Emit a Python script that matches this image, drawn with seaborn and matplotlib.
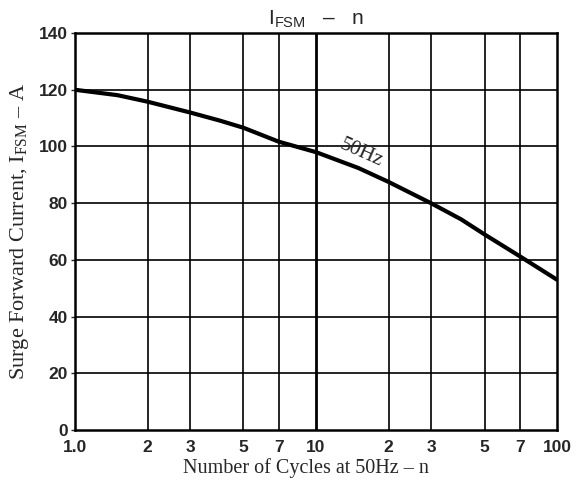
import numpy as np
import pandas as pd
import matplotlib
matplotlib.use("Agg")
import matplotlib.pyplot as plt
import seaborn as sns

cycles = [1, 1.5, 2, 3, 4, 5, 7, 10, 15, 20, 30, 40, 50, 70, 100]
current = [120, 118.1, 115.8, 112, 109.1, 106.6, 101.7, 98, 92.4, 87.5, 80, 74.3, 69, 61.3, 53]
xticks = [1, 2, 3, 5, 7, 10, 20, 30, 50, 70, 100]
xlabels = ["1.0", "2", "3", "5", "7", "10", "2", "3", "5", "7", "100"]
yticks = [0, 20, 40, 60, 80, 100, 120, 140]

df = pd.DataFrame({"n": cycles, "I": current})

sns.set_style("white")
plt.rcParams['font.family'] = ['Liberation Sans', 'DejaVu Sans']
plt.rcParams['mathtext.fontset'] = 'custom'
plt.rcParams['mathtext.rm'] = 'Liberation Serif'
plt.rcParams['mathtext.sf'] = 'Liberation Sans'

fig = plt.figure(figsize=(5.83, 4.86), dpi=100)
ax = fig.add_axes([0.1286, 0.115, 0.827, 0.817])

sns.lineplot(data=df, x="n", y="I", ax=ax, color="black", linewidth=3.0)
ax.set_xscale("log")
ax.set_xlim(1, 100)
ax.set_ylim(0, 140)

# grid
for xv in xticks[1:-1]:
    ax.axvline(xv, color="black", lw=2.0 if xv == 10 else 1.2, zorder=1)
for yv in yticks[1:-1]:
    ax.axhline(yv, color="black", lw=1.2, zorder=1)

ax.set_xticks(xticks)
ax.set_xticklabels(xlabels)
ax.minorticks_off()
ax.set_yticks(yticks)
ax.tick_params(axis="x", length=0, pad=7, labelsize=12.5)
ax.tick_params(axis="y", length=3, width=1, pad=2, labelsize=12.5, left=True, direction="out")
for lab in ax.get_xticklabels() + ax.get_yticklabels():
    lab.set_fontweight("bold")
for sp in ax.spines.values():
    sp.set_color("black")
    sp.set_linewidth(1.8)

ax.set_xlabel("Number of Cycles at 50Hz \u2013 n", family="Liberation Serif", fontsize=14.5)
ax.xaxis.set_label_coords(0.479, -0.07)
ax.set_ylabel("Surge Forward Current, I$_{\\mathrm{FSM}}$ \u2013 A", family="Liberation Serif", fontsize=16)
ax.yaxis.set_label_coords(-0.092, 0.5)
ax.set_title("I$_{\\mathsf{FSM}}$   \u2013   n", fontsize=15, pad=6)

ax.text(15.4, 97.5, "50Hz", family="Liberation Serif", fontsize=15, rotation=-24,
        ha="center", va="center")

fig.savefig("out.png", dpi=100)
